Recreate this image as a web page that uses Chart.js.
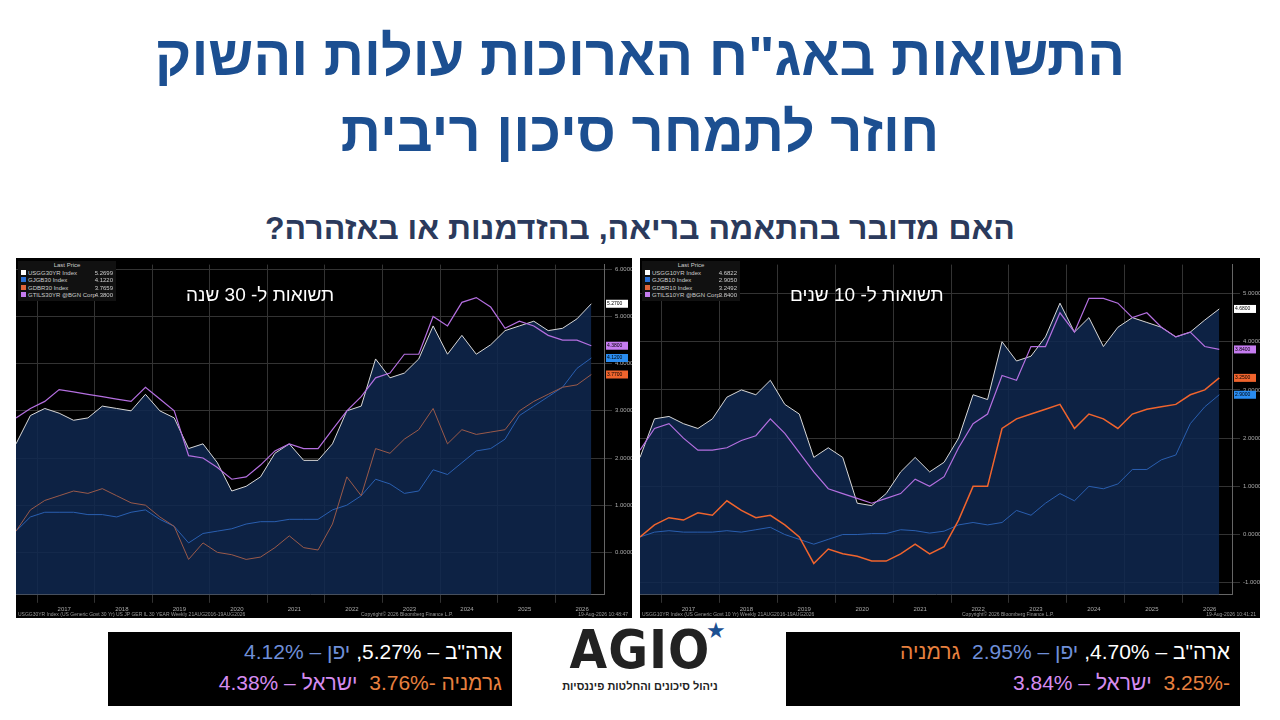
<!DOCTYPE html>
<html><head><meta charset="utf-8">
<script src="https://cdn.jsdelivr.net/npm/chart.js@4.4.1/dist/chart.umd.min.js"></script>
<style>
body{margin:0;width:1280px;height:720px;background:#fff;position:relative;font-family:"Liberation Sans","DejaVu Sans",sans-serif;overflow:hidden}
.t{position:absolute;left:0;width:1280px;text-align:center;direction:rtl;font-weight:bold}
.panel{position:absolute;background:#000}
.ov{position:absolute;color:#fff;direction:rtl;font-size:19px}
.leg{position:absolute;left:2px;top:3px;font-size:6px;color:#ccc;line-height:7.5px;background:#111;padding:1px 3px;width:92px;white-space:nowrap}
.leg i{display:inline-block;width:5px;height:5px;margin-right:2px}
.leg span{position:absolute;right:3px}
.foot{position:absolute;bottom:1px;font-size:5px;color:#999}
.box{position:absolute;background:#000;direction:rtl;font-size:21px;line-height:31px;padding:4px 10px;box-sizing:border-box}
</style></head><body>
<div class="t" style="top:18px;font-size:56px;color:#1c4f91;line-height:76px">התשואות באג"ח הארוכות עולות והשוק<br>חוזר לתמחר סיכון ריבית</div>
<div class="t" style="top:210px;font-size:32px;color:#2b3a5c">האם מדובר בהתאמה בריאה, בהזדמנות או באזהרה?</div>

<div class="panel" style="left:16px;top:258px;width:616px;height:360px"><canvas id="c1"></canvas>
<div class="leg"><div style="text-align:center">Last Price</div><div><i style="background:#fff"></i>USGG30YR Index<span>5.2699</span></div><div><i style="background:#2a6fd6"></i>GJGB30 Index<span>4.1220</span></div><div><i style="background:#e0643a"></i>GDBR30 Index<span>3.7659</span></div><div><i style="background:#c57cf0"></i>GTILS30YR @BGN Corp<span>4.3800</span></div></div>
<div class="ov" style="left:170px;top:26px">תשואות ל- 30 שנה</div>
<div class="foot" style="left:2px">USGG30YR Index (US Generic Govt 30 Yr) US JP GER IL 30 YEAR Weekly 21AUG2016-19AUG2026</div>
<div class="foot" style="left:345px">Copyright© 2026 Bloomberg Finance L.P.</div>
<div class="foot" style="right:4px">19-Aug-2026 10:48:47</div></div>

<div class="panel" style="left:640px;top:258px;width:620px;height:360px"><canvas id="c2"></canvas>
<div class="leg"><div style="text-align:center">Last Price</div><div><i style="background:#fff"></i>USGG10YR Index<span>4.6822</span></div><div><i style="background:#2a6fd6"></i>GJGB10 Index<span>2.9050</span></div><div><i style="background:#e0643a"></i>GDBR10 Index<span>3.2492</span></div><div><i style="background:#c57cf0"></i>GTILS10YR @BGN Corp<span>3.8400</span></div></div>
<div class="ov" style="left:150px;top:26px">תשואות ל- 10 שנים</div>
<div class="foot" style="left:2px">USGG10YR Index (US Generic Govt 10 Yr) Weekly 21AUG2016-19AUG2026</div>
<div class="foot" style="left:322px">Copyright© 2026 Bloomberg Finance L.P.</div>
<div class="foot" style="right:4px">19-Aug-2026 10:41:21</div></div>

<div class="box" style="left:108px;top:632px;width:404px;height:74px">
<div><span style="color:#fff">ארה"ב – 5.27%,</span> <span style="color:#6f8fd8">יפן – 4.12%</span></div>
<div><span style="color:#e8803f">גרמניה -3.76%</span>&nbsp; <span style="color:#d58cf0">ישראל – 4.38%</span></div></div>
<div class="box" style="left:786px;top:632px;width:454px;height:74px">
<div><span style="color:#fff">ארה"ב – 4.70%,</span> <span style="color:#6f8fd8">יפן – 2.95%</span>&nbsp; <span style="color:#e8803f">גרמניה</span></div>
<div><span style="color:#e8803f">-3.25%</span>&nbsp; <span style="color:#d58cf0">ישראל – 3.84%</span></div></div>

<div style="position:absolute;left:550px;top:620px;width:180px;text-align:center">
<div style="font-size:54px;font-weight:bold;color:#222;letter-spacing:1px;font-family:'DejaVu Sans Condensed','Liberation Sans Narrow',sans-serif;line-height:60px">AGIO</div>
<div style="position:absolute;left:156px;top:-2px;color:#1c4f91;font-size:22px">★</div>
<div style="font-size:11px;color:#222;direction:rtl;font-weight:bold;white-space:nowrap">ניהול סיכונים והחלטות פיננסיות</div></div>

<script>
const dates=[2016.63,2016.88,2017.13,2017.38,2017.63,2017.88,2018.13,2018.38,2018.63,2018.88,2019.13,2019.38,2019.63,2019.88,2020.13,2020.38,2020.63,2020.88,2021.13,2021.38,2021.63,2021.88,2022.13,2022.38,2022.63,2022.88,2023.13,2023.38,2023.63,2023.88,2024.13,2024.38,2024.63,2024.88,2025.13,2025.38,2025.63,2025.88,2026.13,2026.38,2026.63];
const years=[2017,2018,2019,2020,2021,2022,2023,2024,2025,2026];
const yTicks30=[0,1,2,3,4,5,6];
const yTicks10=[-1,0,1,2,3,4,5];
const us30=[2.3,2.9,3.05,2.95,2.8,2.85,3.1,3.05,3.0,3.35,3.0,2.85,2.2,2.3,1.9,1.3,1.4,1.6,2.1,2.3,1.95,1.95,2.3,3.0,3.1,4.1,3.7,3.8,4.1,4.8,4.2,4.6,4.2,4.4,4.7,4.8,4.9,4.7,4.75,4.95,5.27];
const jp30=[0.45,0.75,0.85,0.85,0.85,0.8,0.8,0.75,0.85,0.9,0.7,0.55,0.2,0.4,0.45,0.5,0.6,0.65,0.65,0.7,0.7,0.7,0.9,1.0,1.2,1.55,1.45,1.25,1.3,1.75,1.65,1.9,2.15,2.2,2.4,2.9,3.1,3.3,3.5,3.9,4.12];
const de30=[0.45,0.9,1.1,1.2,1.3,1.25,1.35,1.2,1.05,1.0,0.75,0.55,-0.15,0.2,0.0,-0.05,-0.15,-0.1,0.1,0.35,0.1,0.05,0.6,1.6,1.2,2.2,2.1,2.4,2.6,3.05,2.3,2.6,2.5,2.55,2.6,3.0,3.2,3.35,3.5,3.55,3.77];
const il30=[2.85,3.05,3.2,3.45,3.4,3.35,3.3,3.25,3.2,3.5,3.25,3.0,2.05,2.0,1.8,1.55,1.6,1.85,2.15,2.3,2.2,2.2,2.6,3.0,3.3,3.7,3.8,4.2,4.2,5.0,4.8,5.3,5.4,5.2,4.75,4.9,4.8,4.6,4.5,4.5,4.38];
const us10=[1.6,2.4,2.45,2.3,2.2,2.4,2.85,3.0,2.9,3.2,2.7,2.5,1.6,1.8,1.6,0.65,0.6,0.85,1.3,1.6,1.3,1.5,2.0,2.9,2.8,4.0,3.6,3.7,4.1,4.8,4.2,4.5,3.9,4.3,4.5,4.4,4.3,4.1,4.2,4.45,4.68];
const jp10=[-0.05,0.05,0.08,0.05,0.05,0.05,0.08,0.05,0.1,0.15,0.0,-0.1,-0.2,-0.1,0.0,0.0,0.02,0.02,0.1,0.08,0.03,0.07,0.2,0.25,0.2,0.25,0.5,0.4,0.65,0.85,0.7,1.0,0.95,1.05,1.35,1.35,1.55,1.65,2.3,2.65,2.9];
const de10=[-0.05,0.2,0.35,0.3,0.45,0.4,0.7,0.5,0.35,0.4,0.2,-0.05,-0.6,-0.3,-0.4,-0.45,-0.55,-0.55,-0.4,-0.2,-0.4,-0.25,0.3,1.0,1.0,2.2,2.4,2.5,2.6,2.7,2.2,2.5,2.4,2.2,2.5,2.6,2.65,2.7,2.9,3.0,3.25];
const il10=[1.75,2.2,2.3,2.0,1.75,1.75,1.8,1.95,2.05,2.4,2.1,1.7,1.3,0.95,0.85,0.75,0.65,0.75,0.85,1.15,1.0,1.2,1.8,2.3,2.5,3.3,3.2,3.9,3.9,4.6,4.2,4.9,4.9,4.8,4.5,4.6,4.3,4.1,4.2,3.9,3.84];

const badge={id:'badge',afterDatasetsDraw(ch){const c=ch.ctx,y=ch.scales.y,x=ch.chartArea.right+2;
 ch.data.datasets.forEach(d=>{const v=d.data[d.data.length-1].y,py=y.getPixelForValue(v);
 c.fillStyle=d.badge;c.fillRect(x,py-4,22,8);c.fillStyle='#000';c.font='5px sans-serif';c.textAlign='left';c.textBaseline='middle';c.fillText(v.toFixed(4),x+1,py);});}};
function ds(arr){return arr.map((v,i)=>({x:dates[i],y:v}));}
function make(id,us,jp,de,il,ymin,ymax,yt,bw){
 new Chart(document.getElementById(id),{type:'line',
 data:{datasets:[
  {data:ds(il),borderColor:'#b46fe0',borderWidth:1.2,badge:'#c57cf0'},
  {data:ds(de),borderColor:bw?'#9a5a4a':'#f0642d',borderWidth:bw?1:1.5,badge:'#f0642d'},
  {data:ds(jp),borderColor:'#2a5fb0',borderWidth:1,badge:'#2a8cf0'},
  {data:ds(us),borderColor:'#d8d8d8',borderWidth:1,fill:{value:ymin},backgroundColor:'rgba(15,40,80,0.85)',badge:'#fff'}]},
 options:{responsive:false,animation:false,elements:{point:{radius:0},line:{tension:0}},
  plugins:{legend:{display:false},tooltip:{enabled:false}},
  scales:{x:{type:'linear',min:2016.63,max:2026.85,afterBuildTicks(a){a.ticks=years.map(v=>({value:v}));},
   ticks:{color:'#aaa',font:{size:6},labelOffset:27,maxRotation:0,callback:v=>v},grid:{color:'#333'},border:{color:'#666'}},
   y:{position:'right',min:ymin,max:ymax,afterBuildTicks(a){a.ticks=yt.map(v=>({value:v}));},
   ticks:{color:'#aaa',font:{size:6},padding:3,callback:v=>v.toFixed(4)},grid:{color:'#333'},border:{color:'#666'},afterFit(a){a.width=28;}}}},
 plugins:[badge]});
}
const c1=document.getElementById('c1');c1.width=616;c1.height=358;
const c2=document.getElementById('c2');c2.width=620;c2.height=358;
make('c1',us30,jp30,de30,il30,-0.9,6.1,yTicks30,true);
make('c2',us10,jp10,de10,il10,-1.25,5.6,yTicks10,false);
</script></body></html>
